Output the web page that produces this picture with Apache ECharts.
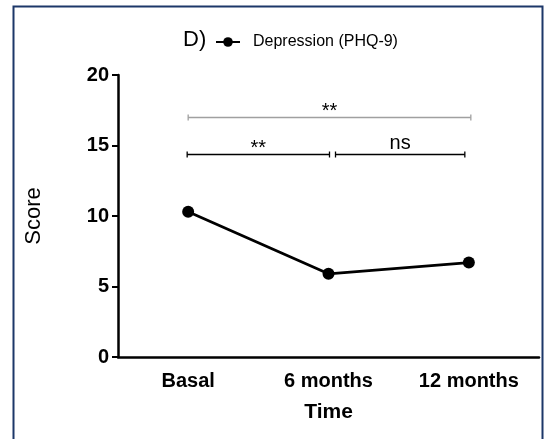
<!DOCTYPE html>
<html>
<head>
<meta charset="utf-8">
<script src="https://cdn.jsdelivr.net/npm/echarts@6/dist/echarts.min.js"></script>
<style>
html,body{margin:0;padding:0;background:#fff;}
#chart{width:545px;height:439px;}
</style>
</head>
<body>
<div id="chart"></div>
<script>
var categories = ['Basal', '6 months', '12 months'];
var scores = [10.3, 5.9, 6.7];
var yTicks = [0, 5, 10, 15, 20];
var bracketStart = [0, 0, 1];
var bracketEnd = [2, 1, 2];
var bracketLevel = [17, 14.4, 14.4];
var bracketText = ['**', '**', 'ns'];
var bracketColor = ['#a0a0a0', '#000000', '#000000'];
var bracketInsetL = [0, -1, 7];
var bracketInsetR = [2, 1, -4];
var bracketTextLift = [6, 6, 11];

var chart = echarts.init(document.getElementById('chart'));
var FONT = '"Liberation Sans", Arial, sans-serif';

var bracketData = bracketStart.map(function (s, i) {
  return [s, bracketEnd[i], bracketLevel[i], i];
});

chart.setOption({
  animation: false,
  backgroundColor: '#ffffff',
  graphic: [{
    type: 'rect',
    shape: { x: 13.5, y: 6.5, width: 529, height: 450 },
    style: { fill: 'none', stroke: '#1c3769', lineWidth: 2 },
    silent: true
  }],
  title: {
    text: 'D)',
    left: 178,
    top: 24,
    textStyle: { fontFamily: FONT, fontSize: 22, fontWeight: 'normal', color: '#000' }
  },
  legend: {
    left: 210,
    top: 29,
    itemWidth: 24,
    itemHeight: 12,
    data: ['Depression (PHQ-9)'],
    textStyle: { fontFamily: FONT, fontSize: 16, color: '#000', padding: [0, 0, 0, 8] }
  },
  grid: { left: 118, right: 6, top: 75, bottom: 82, containLabel: false },
  xAxis: {
    type: 'category',
    data: categories,
    boundaryGap: true,
    name: 'Time',
    nameLocation: 'middle',
    nameGap: 45,
    nameTextStyle: { fontFamily: FONT, fontSize: 21, fontWeight: 'bold', color: '#000' },
    axisLine: { lineStyle: { color: '#000', width: 2.5 } },
    axisTick: { alignWithLabel: true, length: 6, lineStyle: { color: '#000', width: 2 } },
    axisLabel: { fontFamily: FONT, fontSize: 20, fontWeight: 'bold', color: '#000', margin: 14 },
    splitLine: { show: false }
  },
  yAxis: {
    type: 'value',
    min: yTicks[0],
    max: yTicks[yTicks.length - 1],
    interval: yTicks[1] - yTicks[0],
    name: 'Score',
    nameLocation: 'middle',
    nameGap: 73,
    nameRotate: 90,
    nameTextStyle: { fontFamily: FONT, fontSize: 22, color: '#000' },
    axisLine: { show: true, lineStyle: { color: '#000', width: 2.5 } },
    axisTick: { show: true, length: 6, lineStyle: { color: '#000', width: 2 } },
    axisLabel: { fontFamily: FONT, fontSize: 20, fontWeight: 'bold', color: '#000', margin: 9 },
    splitLine: { show: false }
  },
  series: [{
    name: 'Depression (PHQ-9)',
    type: 'line',
    data: scores,
    symbol: 'circle',
    symbolSize: 12,
    itemStyle: { color: '#000' },
    lineStyle: { color: '#000', width: 2.8 }
  }, {
    type: 'custom',
    data: bracketData,
    encode: { x: [0, 1], y: 2 },
    silent: true,
    renderItem: function (params, api) {
      var i = api.value(3);
      var p1 = api.coord([api.value(0), api.value(2)]);
      var p2 = api.coord([api.value(1), api.value(2)]);
      var x1 = p1[0] + bracketInsetL[i];
      var x2 = p2[0] + bracketInsetR[i];
      var y = Math.round(p1[1]) + 0.5;
      var c = bracketColor[i];
      var ls = { stroke: c, lineWidth: 1.3 };
      return {
        type: 'group',
        children: [
          { type: 'line', shape: { x1: x1, y1: y, x2: x2, y2: y }, style: ls },
          { type: 'line', shape: { x1: x1, y1: y - 3, x2: x1, y2: y + 3 }, style: ls },
          { type: 'line', shape: { x1: x2, y1: y - 3, x2: x2, y2: y + 3 }, style: ls },
          { type: 'text', style: {
              x: (x1 + x2) / 2, y: y - bracketTextLift[i],
              text: bracketText[i],
              fill: '#000',
              font: '20px ' + FONT,
              align: 'center', verticalAlign: 'middle'
          } }
        ]
      };
    }
  }]
});
</script>
</body>
</html>
